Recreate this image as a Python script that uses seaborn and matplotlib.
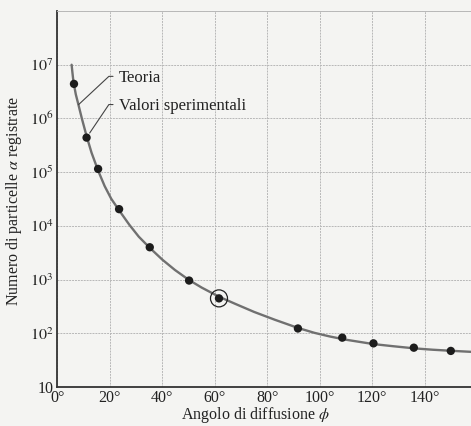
import pandas as pd
import matplotlib
matplotlib.use("Agg")
from matplotlib import pyplot as plt
from matplotlib import ticker
import seaborn as sns

# theory curve (scattering angle in degrees, counts)
theory_angle = [5.4, 5.7, 6.1, 7.0, 8.0, 9.3, 11.1, 13.0, 15.5, 18.0, 20.5, 23.5,
                27.4, 31.0, 35.2, 40.0, 44.8, 50.2, 55.0, 61.6, 68.0, 75.0, 83.0,
                91.7, 98.0, 104.0, 110.0, 120.5, 128.0, 136.0, 143.0, 150.0, 157.7]
theory_count = [1.0e7, 7.2e6, 4.8e6, 2.8e6, 1.8e6, 1.0e6, 4.7e5, 2.3e5, 1.07e5,
                5.5e4, 3.2e4, 1.95e4, 1.05e4, 6300, 3900, 2350, 1510, 980, 710,
                480, 350, 250, 178, 126, 102, 87, 76, 63, 57.5, 52.5, 49.5, 47.3, 45.2]

# measured points
exp_angle = [6.3, 11.1, 15.5, 23.5, 35.2, 50.2, 61.6, 91.7, 108.6, 120.5, 135.9, 150.0]
exp_count = [4.4e6, 4.4e5, 1.15e5, 2.05e4, 4.0e3, 960, 447, 123, 83, 65, 54, 47]
circled = 6  # the ringed measurement

x_ticks = [0, 20, 40, 60, 80, 100, 120, 140]
x_labels = ["0°", "20°", "40°", "60°", "80°", "100°", "120°", "140°"]
y_ticks = [1e1, 1e2, 1e3, 1e4, 1e5, 1e6, 1e7, 1e8]
y_labels = ["10", "$10^{2}$", "$10^{3}$", "$10^{4}$", "$10^{5}$", "$10^{6}$", "$10^{7}$", ""]

sns.set_theme(style="white")
plt.rcParams["font.family"] = ["Liberation Serif", "DejaVu Serif"]
plt.rcParams["mathtext.fontset"] = "stix"

bg = "#f4f4f2"
ink = "#222222"
grid_col = "#b8b8b8"

theory = pd.DataFrame({"angle": theory_angle, "count": theory_count})
exp = pd.DataFrame({"angle": exp_angle, "count": exp_count})

fig = plt.figure(figsize=(4.71, 4.26), dpi=100, facecolor=bg)
ax = fig.add_axes([0.122, 0.0915, 0.878, 0.8826], facecolor=bg)
ax.set_yscale("log")

sns.lineplot(data=theory, x="angle", y="count", color="#707070", lw=1.7, ax=ax, zorder=2)
sns.scatterplot(data=exp, x="angle", y="count", color="#1c1c1c", s=36,
                edgecolor="none", ax=ax, zorder=3)
sns.scatterplot(data=exp.iloc[[circled]], x="angle", y="count", s=150, marker="o",
                facecolors="none", edgecolor=ink, linewidth=0.9, ax=ax, zorder=3)

ax.set_xlim(0, 157.7)
ax.set_ylim(10, 1e8)
ax.set_xticks(x_ticks, x_labels)
ax.set_yticks(y_ticks, y_labels)
ax.yaxis.set_minor_locator(ticker.NullLocator())
ax.tick_params(length=0, labelsize=11.5, colors=ink)
ax.tick_params(axis="x", pad=2)
ax.tick_params(axis="y", pad=3)

ax.grid(True, color=grid_col, linestyle=(0, (2, 1)), lw=0.7)
for side in ["left", "bottom"]:
    ax.spines[side].set_color("#333333")
    ax.spines[side].set_linewidth(1.3)
ax.spines["right"].set_visible(False)
ax.spines["top"].set_color(grid_col)
ax.spines["top"].set_linestyle((0, (2, 1)))
ax.spines["top"].set_linewidth(0.7)

ax.set_xlabel("Angolo di diffusione $\\phi$", fontsize=11.5, color=ink)
ax.set_ylabel("Numero di particelle $\\alpha$ registrate", fontsize=11.5, color=ink)
ax.xaxis.set_label_coords(0.478, -0.049)
ax.yaxis.set_label_coords(-0.08, 0.496)

ax.annotate("Teoria", xy=(theory_angle[4], theory_count[4]), xycoords="data",
            xytext=(0.149, 0.822), textcoords="axes fraction",
            ha="left", va="center", fontsize=12, color=ink,
            arrowprops=dict(arrowstyle="-", color="#444444", lw=0.8,
                            connectionstyle="angle,angleA=0,angleB=43,rad=0",
                            relpos=(0, 0.6), shrinkA=2, shrinkB=0))
ax.annotate("Valori sperimentali", xy=(exp_angle[1], exp_count[1]), xycoords="data",
            xytext=(0.149, 0.747), textcoords="axes fraction",
            ha="left", va="center", fontsize=12, color=ink,
            arrowprops=dict(arrowstyle="-", color="#444444", lw=0.8,
                            connectionstyle="angle,angleA=0,angleB=56,rad=0",
                            relpos=(0, 0.6), shrinkA=2, shrinkB=4))

fig.savefig("out.png", dpi=100, facecolor=bg)
